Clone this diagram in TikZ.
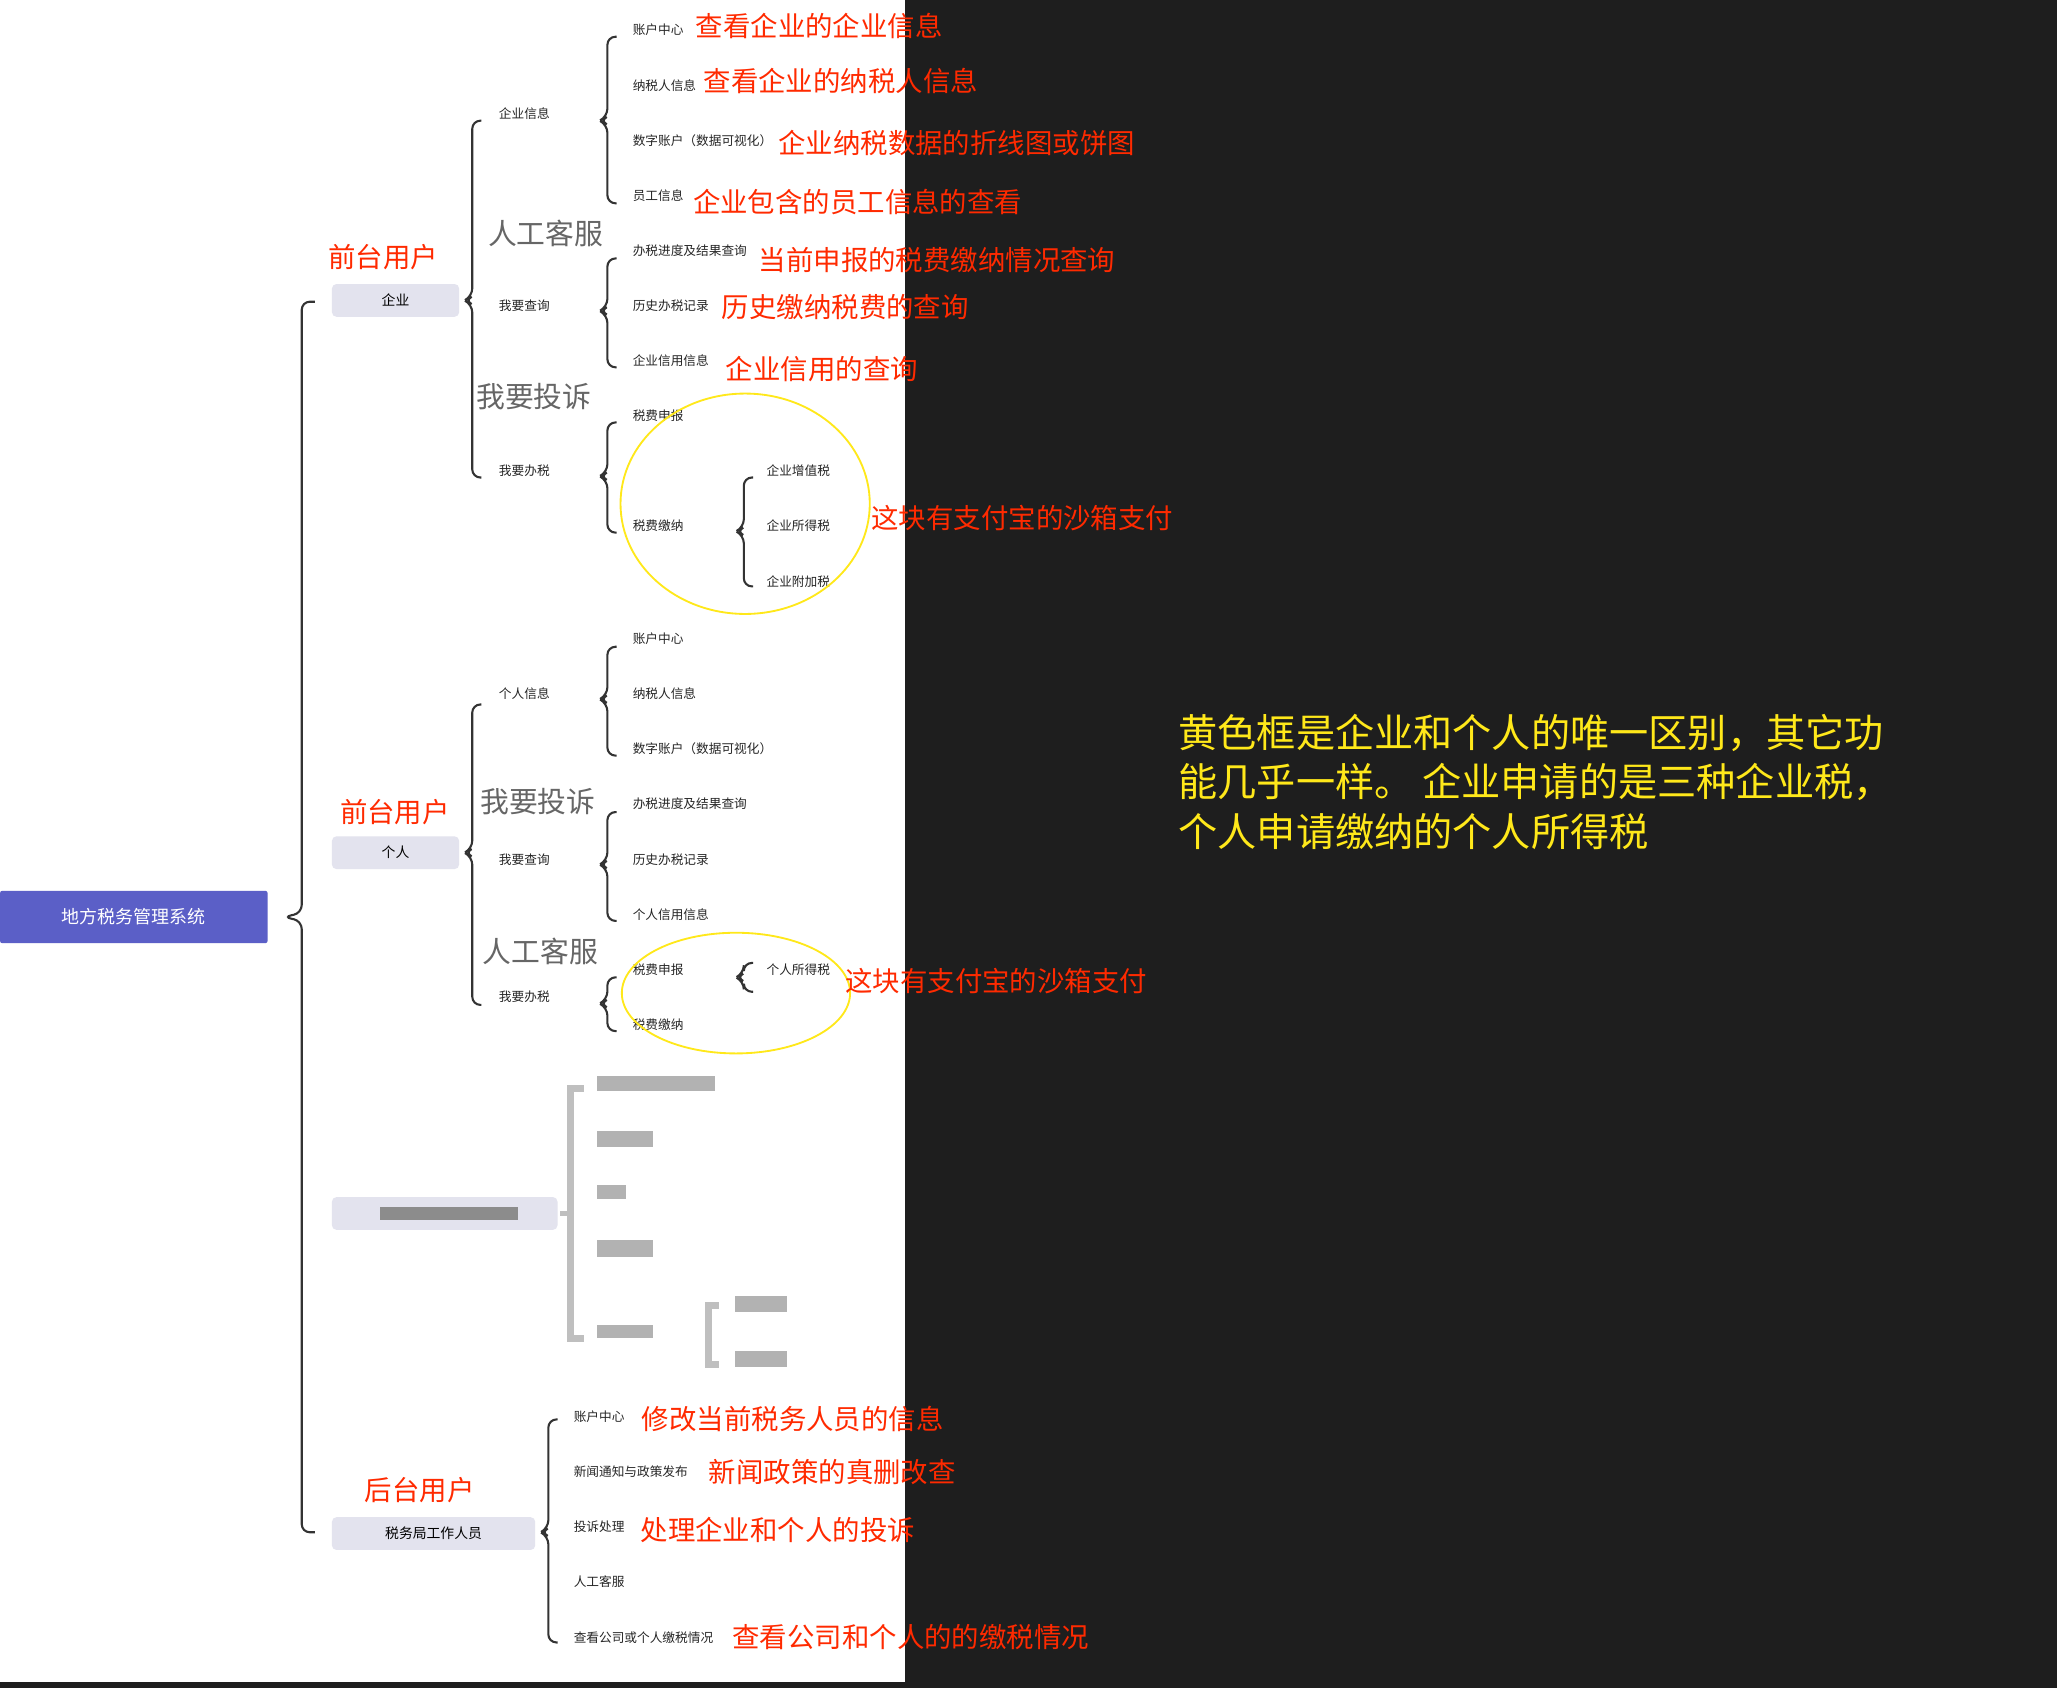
\documentclass[tikz,border=0pt]{standalone}
\usepackage{fontspec}
\setmainfont{Noto Sans CJK SC}
\definecolor{redt}{HTML}{FF2A00}
\definecolor{yel}{HTML}{FFE81A}
\definecolor{boxg}{HTML}{E3E3EE}
\definecolor{rootb}{HTML}{5B5FC7}
\definecolor{dark}{HTML}{1E1E1E}
\newcommand\mybrace[4]{\draw[bracel] ({#1+7},#2) -- (#1,#2) -- (#1,{#3-3}) -- ({#1-6},#3) -- (#1,{#3+3}) -- (#1,#4) -- ({#1+7},#4);}
\begin{document}
\begin{tikzpicture}[x=0.02cm,y=-0.02cm,
 sm/.style={font=\fontsize{5.5}{6}\selectfont,anchor=west,inner sep=0,text=black!85},
 rl/.style={font=\fontsize{11.9}{12}\selectfont,anchor=west,inner sep=0,text=redt},
 rlc/.style={font=\fontsize{11.9}{12}\selectfont,inner sep=0,text=redt},
 gb/.style={font=\fontsize{12.5}{13}\selectfont,inner sep=0,text=black!60},
 lv/.style={fill=boxg,rounded corners=2pt,minimum height=0.5cm,inner sep=0,font=\fontsize{6}{7}\selectfont},
 bracel/.style={draw=black!80,line width=0.9pt,rounded corners=3.5pt},
 ell/.style={draw=yel,line width=0.8pt},
 blur/.style={fill=black!30}]
\fill[dark] (0,0) rectangle (1568,1287);
\fill[white] (0,0) rectangle (690,1282);
\useasboundingbox (0,0) rectangle (1568,1287);
% root
\node[fill=rootb,text=white,minimum width=4.08cm,minimum height=0.8cm,inner sep=0,rounded corners=1pt,font=\fontsize{7.8}{9}\selectfont] (root) at (102,699) {地方税务管理系统};
\draw[bracel] (240,230) -- (230,230) -- (230,696) -- (216,699) -- (230,702) -- (230,1168) -- (240,1168);
% level 1
\node[lv,minimum width=1.94cm] (qy) at (301.5,229) {企业};
\node[lv,minimum width=1.94cm] (gr) at (301.5,650) {个人};
\node[lv,minimum width=3.44cm] (bl) at (339,925) {};
\fill[black!45] (290,920) rectangle (395,930);
\node[lv,minimum width=3.1cm] (sw) at (330.5,1169) {税务局工作人员};
\node[rlc] (l1) at (292,196) {前台用户};
\node[rlc] (l2) at (301,619) {前台用户};
\node[rlc] (l3) at (320,1136) {后台用户};
% 企业
\mybrace{360}{92}{229}{364}
\node[sm] (a1) at (380,87) {企业信息};
\node[sm] (a2) at (380,233) {我要查询};
\node[sm] (a3) at (380,359) {我要办税};
\node[gb] (g1) at (416,178) {人工客服};
\node[gb] (g2) at (407,302) {我要投诉};
\mybrace{463}{28}{92}{155}
\node[sm] (b1) at (482,23) {账户中心};
\node[sm] (b2) at (482,65) {纳税人信息};
\node[sm] (b3) at (482,107) {数字账户（数据可视化）};
\node[sm] (b4) at (482,149) {员工信息};
\node[rl] (r1) at (530,20) {查看企业的企业信息};
\node[rl] (r2) at (536,62) {查看企业的纳税人信息};
\node[rl] (r3) at (593,109) {企业纳税数据的折线图或饼图};
\node[rl] (r4) at (528,154) {企业包含的员工信息的查看};
\mybrace{463}{197}{237}{280}
\node[sm] (c1) at (482,191) {办税进度及结果查询};
\node[sm] (c2) at (482,233) {历史办税记录};
\node[sm] (c3) at (482,275) {企业信用信息};
\node[rl] (r5) at (578,198) {当前申报的税费缴纳情况查询};
\node[rl] (r6) at (550,234) {历史缴纳税费的查询};
\node[rl] (r7) at (553,281) {企业信用的查询};
\mybrace{463}{322}{363}{406}
\node[sm] (d1) at (482,317) {税费申报};
\node[sm] (d2) at (482,401) {税费缴纳};
\mybrace{567}{364}{405}{447}
\node[sm] (e1) at (584,359) {企业增值税};
\node[sm] (e2) at (584,401) {企业所得税};
\node[sm] (e3) at (584,443) {企业附加税};
\draw[ell] (568,384) ellipse [x radius=95,y radius=84];
\node[rl] (r8) at (664,395) {这块有支付宝的沙箱支付};
% 个人
\mybrace{360}{537}{650}{766}
\node[sm] (f1) at (380,529) {个人信息};
\node[sm] (f2) at (380,655) {我要查询};
\node[sm] (f3) at (380,760) {我要办税};
\node[gb] (g3) at (410,611) {我要投诉};
\node[gb] (g4) at (412,725) {人工客服};
\mybrace{463}{493}{533}{576}
\node[sm] (h1) at (482,487) {账户中心};
\node[sm] (h2) at (482,529) {纳税人信息};
\node[sm] (h3) at (482,571) {数字账户（数据可视化）};
\mybrace{463}{619}{659}{702}
\node[sm] (i1) at (482,613) {办税进度及结果查询};
\node[sm] (i2) at (482,655) {历史办税记录};
\node[sm] (i3) at (482,697) {个人信用信息};
\mybrace{463}{745}{765}{786}
\node[sm] (j1) at (482,739) {税费申报};
\node[sm] (j2) at (482,781) {税费缴纳};
\mybrace{567}{734}{745}{756}
\node[sm] (k1) at (584,739) {个人所得税};
\draw[ell] (561,757) ellipse [x radius=87,y radius=46];
\node[rl] (r9) at (644,748) {这块有支付宝的沙箱支付};
% blurred group
\draw[black!25,line width=3pt] (445,830) -- (435,830) -- (435,1020) -- (445,1020);
\draw[black!25,line width=2pt] (427,925) -- (435,925);
\fill[blur] (455,820) rectangle (545,832);
\fill[blur] (455,862) rectangle (498,874);
\fill[blur] (455,903) rectangle (477,914);
\fill[blur] (455,945) rectangle (498,958);
\fill[blur] (455,1010) rectangle (498,1020);
\draw[black!25,line width=3pt] (548,995) -- (540,995) -- (540,1040) -- (548,1040);
\fill[blur] (560,988) rectangle (600,1000);
\fill[blur] (560,1030) rectangle (600,1042);
% 后台
\mybrace{418}{1082}{1168}{1252}
\node[sm] (m1) at (437,1080) {账户中心};
\node[sm] (m2) at (437,1122) {新闻通知与政策发布};
\node[sm] (m3) at (437,1164) {投诉处理};
\node[sm] (m4) at (437,1206) {人工客服};
\node[sm] (m5) at (437,1248) {查看公司或个人缴税情况};
\node[rl] (s1) at (489,1082) {修改当前税务人员的信息};
\node[rl] (s2) at (540,1122) {新闻政策的真删改查};
\node[rl] (s3) at (488,1166) {处理企业和个人的投诉};
\node[rl] (s4) at (558,1248) {查看公司和个人的的缴税情况};
% note
\node[anchor=north west,inner sep=0,text=yel,font=\fontsize{17}{21.5}\selectfont,align=left] (note) at (898,544) {黄色框是企业和个人的唯一区别，其它功\\能几乎一样。 企业申请的是三种企业税，\\个人申请缴纳的个人所得税};
\end{tikzpicture}
\end{document}
